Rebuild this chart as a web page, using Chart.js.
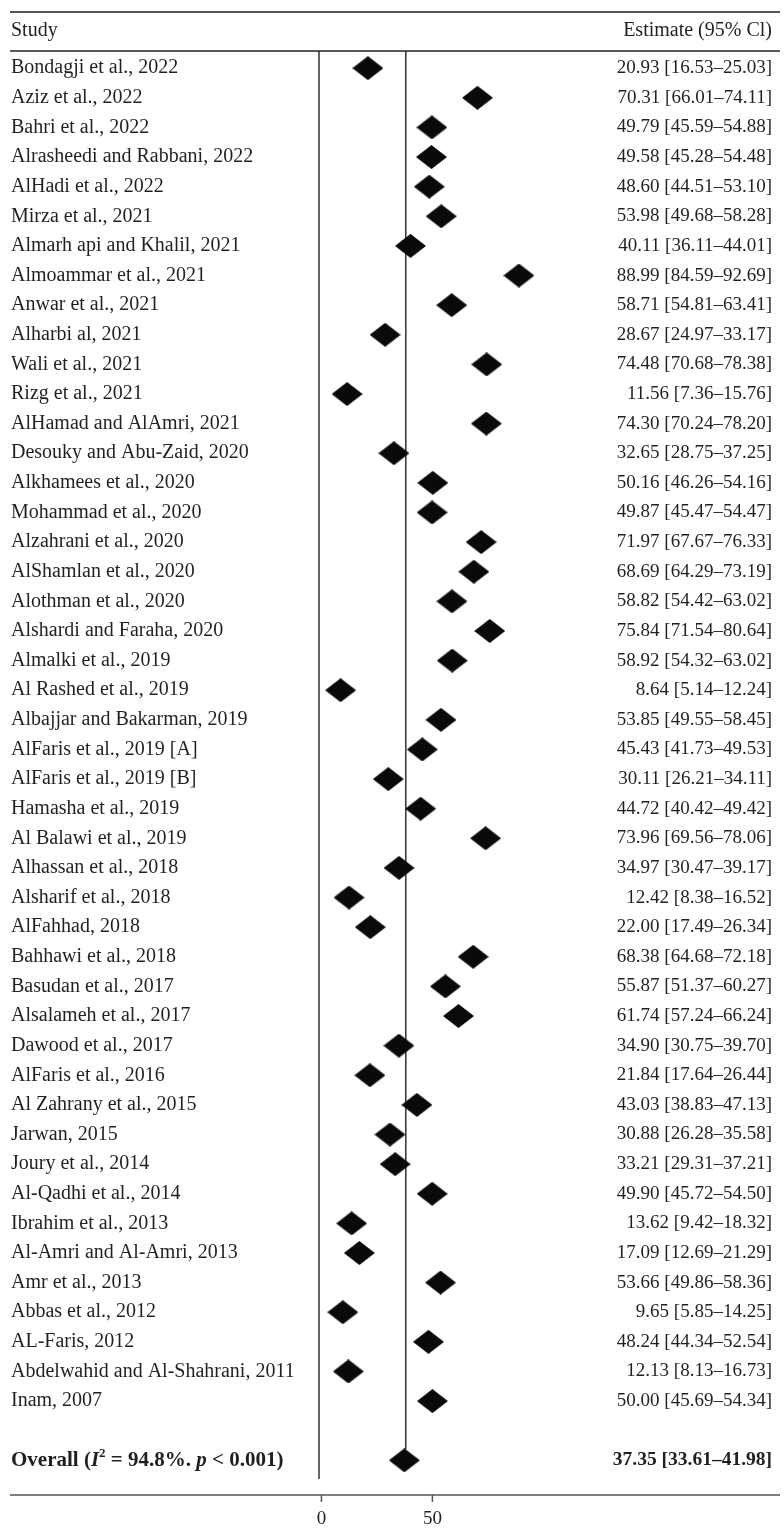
<!DOCTYPE html>
<html lang="en">
  <head>
    <meta charset="UTF-8" />
    <title>Forest plot</title>
    <script src="https://cdn.jsdelivr.net/npm/chart.js"></script>
    <style>
      body {
        margin: 0;
        background: #fff;
      }
      #wrap {
        width: 784px;
        height: 1528px;
      }
    </style>
  </head>
  <body>
    <div id="wrap"><canvas id="chart" width="784" height="1528"></canvas></div>

    <script>
      const studies = [
        "Bondagji et al., 2022", "Aziz et al., 2022", "Bahri et al., 2022",
        "Alrasheedi and Rabbani, 2022", "AlHadi et al., 2022", "Mirza et al., 2021",
        "Almarh api and Khalil, 2021", "Almoammar et al., 2021", "Anwar et al., 2021",
        "Alharbi al, 2021", "Wali et al., 2021", "Rizg et al., 2021",
        "AlHamad and AlAmri, 2021", "Desouky and Abu-Zaid, 2020", "Alkhamees et al., 2020",
        "Mohammad et al., 2020", "Alzahrani et al., 2020", "AlShamlan et al., 2020",
        "Alothman et al., 2020", "Alshardi and Faraha, 2020", "Almalki et al., 2019",
        "Al Rashed et al., 2019", "Albajjar and Bakarman, 2019", "AlFaris et al., 2019 [A]",
        "AlFaris et al., 2019 [B]", "Hamasha et al., 2019", "Al Balawi et al., 2019",
        "Alhassan et al., 2018", "Alsharif et al., 2018", "AlFahhad, 2018",
        "Bahhawi et al., 2018", "Basudan et al., 2017", "Alsalameh et al., 2017",
        "Dawood et al., 2017", "AlFaris et al., 2016", "Al Zahrany et al., 2015",
        "Jarwan, 2015", "Joury et al., 2014", "Al-Qadhi et al., 2014",
        "Ibrahim et al., 2013", "Al-Amri and Al-Amri, 2013", "Amr et al., 2013",
        "Abbas et al., 2012", "AL-Faris, 2012", "Abdelwahid and Al-Shahrani, 2011",
        "Inam, 2007"
      ];
      const estimates = [
        20.93, 70.31, 49.79, 49.58, 48.60, 53.98, 40.11, 88.99, 58.71, 28.67,
        74.48, 11.56, 74.30, 32.65, 50.16, 49.87, 71.97, 68.69, 58.82, 75.84,
        58.92, 8.64, 53.85, 45.43, 30.11, 44.72, 73.96, 34.97, 12.42, 22.00,
        68.38, 55.87, 61.74, 34.90, 21.84, 43.03, 30.88, 33.21, 49.90, 13.62,
        17.09, 53.66, 9.65, 48.24, 12.13, 50.00
      ];
      const lower = [
        16.53, 66.01, 45.59, 45.28, 44.51, 49.68, 36.11, 84.59, 54.81, 24.97,
        70.68, 7.36, 70.24, 28.75, 46.26, 45.47, 67.67, 64.29, 54.42, 71.54,
        54.32, 5.14, 49.55, 41.73, 26.21, 40.42, 69.56, 30.47, 8.38, 17.49,
        64.68, 51.37, 57.24, 30.75, 17.64, 38.83, 26.28, 29.31, 45.72, 9.42,
        12.69, 49.86, 5.85, 44.34, 8.13, 45.69
      ];
      const upper = [
        25.03, 74.11, 54.88, 54.48, 53.10, 58.28, 44.01, 92.69, 63.41, 33.17,
        78.38, 15.76, 78.20, 37.25, 54.16, 54.47, 76.33, 73.19, 63.02, 80.64,
        63.02, 12.24, 58.45, 49.53, 34.11, 49.42, 78.06, 39.17, 16.52, 26.34,
        72.18, 60.27, 66.24, 39.70, 26.44, 47.13, 35.58, 37.21, 54.50, 18.32,
        21.29, 58.36, 14.25, 52.54, 16.73, 54.34
      ];
      const overallEstimate = 37.35;
      const overallLower = 33.61;
      const overallUpper = 41.98;
      const overallRow = 47;
      const xTicks = [0, 50];

      const FONT = '"Liberation Serif", "DejaVu Serif", serif';
      const INK = "#231f20";

      // diamond marker used as point style
      function diamond(w, h) {
        const c = document.createElement("canvas");
        c.width = w;
        c.height = h;
        const g = c.getContext("2d");
        g.fillStyle = "#0a0a0a";
        g.beginPath();
        g.moveTo(w / 2, 0);
        g.lineTo(w, h / 2);
        g.lineTo(w / 2, h);
        g.lineTo(0, h / 2);
        g.closePath();
        g.fill();
        return c;
      }
      const marker = diamond(31, 24);

      function ci(e, lo, hi) {
        return e.toFixed(2) + " [" + lo.toFixed(2) + "\u2013" + hi.toFixed(2) + "]";
      }

      const forestText = {
        id: "forestText",
        beforeDatasetsDraw(chart) {
          const { ctx, chartArea } = chart;
          const x = chart.scales.x;
          const y = chart.scales.y;
          ctx.save();
          ctx.strokeStyle = "#111";
          ctx.lineWidth = 1.3;
          // left border of plot panel
          ctx.beginPath();
          ctx.moveTo(chartArea.left, chartArea.top);
          ctx.lineTo(chartArea.left, chartArea.bottom);
          ctx.stroke();
          // overall reference line
          const rx = x.getPixelForValue(overallEstimate) + 1.5;
          ctx.beginPath();
          ctx.moveTo(rx, chartArea.top);
          ctx.lineTo(rx, y.getPixelForValue(overallRow) - 11);
          ctx.stroke();
          ctx.restore();
        },
        afterDraw(chart) {
          const { ctx, chartArea } = chart;
          const x = chart.scales.x;
          const y = chart.scales.y;
          const L = 11, R = 772;
          ctx.save();
          ctx.fillStyle = INK;
          ctx.textBaseline = "middle";

          // top rules
          ctx.strokeStyle = "#222";
          ctx.lineWidth = 1.4;
          ctx.beginPath();
          ctx.moveTo(10, 12);
          ctx.lineTo(780, 12);
          ctx.moveTo(10, chartArea.top);
          ctx.lineTo(780, chartArea.top);
          ctx.stroke();

          ctx.font = "20px " + FONT;
          ctx.textAlign = "left";
          ctx.fillText("Study", L, 31);
          ctx.textAlign = "right";
          ctx.fillText("Estimate (95% Cl)", R, 31);

          studies.forEach((s, i) => {
            const py = y.getPixelForValue(i);
            ctx.textAlign = "left";
            ctx.font = "20px " + FONT;
            ctx.fillText(s, L, py);
            ctx.textAlign = "right";
            ctx.font = "19px " + FONT;
            ctx.fillText(ci(estimates[i], lower[i], upper[i]), R, py);
          });

          // overall row
          const oy = y.getPixelForValue(overallRow);
          const parts = [
            ["bold", "Overall ("],
            ["bold italic", "I"],
            ["sup", "2"],
            ["bold", " = 94.8%. "],
            ["bold italic", "p"],
            ["bold", " < 0.001)"]
          ];
          let cx = L;
          ctx.textAlign = "left";
          parts.forEach(([st, t]) => {
            if (st === "sup") {
              ctx.font = "bold 13px " + FONT;
              ctx.fillText(t, cx, oy - 7);
            } else {
              ctx.font = st + " 21px " + FONT;
              ctx.fillText(t, cx, oy);
            }
            cx += ctx.measureText(t).width;
          });
          ctx.font = "bold 19.5px " + FONT;
          ctx.textAlign = "right";
          ctx.fillText(ci(overallEstimate, overallLower, overallUpper), R, oy);

          // bottom axis
          const ay = 1495;
          ctx.strokeStyle = "#555";
          ctx.lineWidth = 1.5;
          ctx.beginPath();
          ctx.moveTo(10, ay);
          ctx.lineTo(780, ay);
          ctx.stroke();
          ctx.font = "19px " + FONT;
          ctx.textAlign = "center";
          xTicks.forEach((t) => {
            const px = x.getPixelForValue(t);
            ctx.beginPath();
            ctx.moveTo(px, ay);
            ctx.lineTo(px, ay + 7);
            ctx.stroke();
            ctx.fillText(String(t), px, 1519);
          });
          ctx.restore();
        }
      };

      new Chart(document.getElementById("chart"), {
        type: "scatter",
        data: {
          datasets: [
            {
              data: estimates.map((e, i) => ({ x: e, y: i })),
              pointStyle: marker,
              pointRadius: 15
            },
            {
              data: [{ x: overallEstimate, y: overallRow }],
              pointStyle: marker,
              pointRadius: 15
            }
          ]
        },
        options: {
          responsive: false,
          animation: false,
          layout: { padding: { left: 319, right: 224, top: 51, bottom: 49 } },
          plugins: { legend: { display: false }, tooltip: { enabled: false } },
          scales: {
            x: { type: "linear", min: -1.1, max: 107.5, display: false },
            y: { type: "linear", reverse: true, min: -0.58, max: 47.63, display: false }
          }
        },
        plugins: [forestText]
      });
    </script>
  </body>
</html>
